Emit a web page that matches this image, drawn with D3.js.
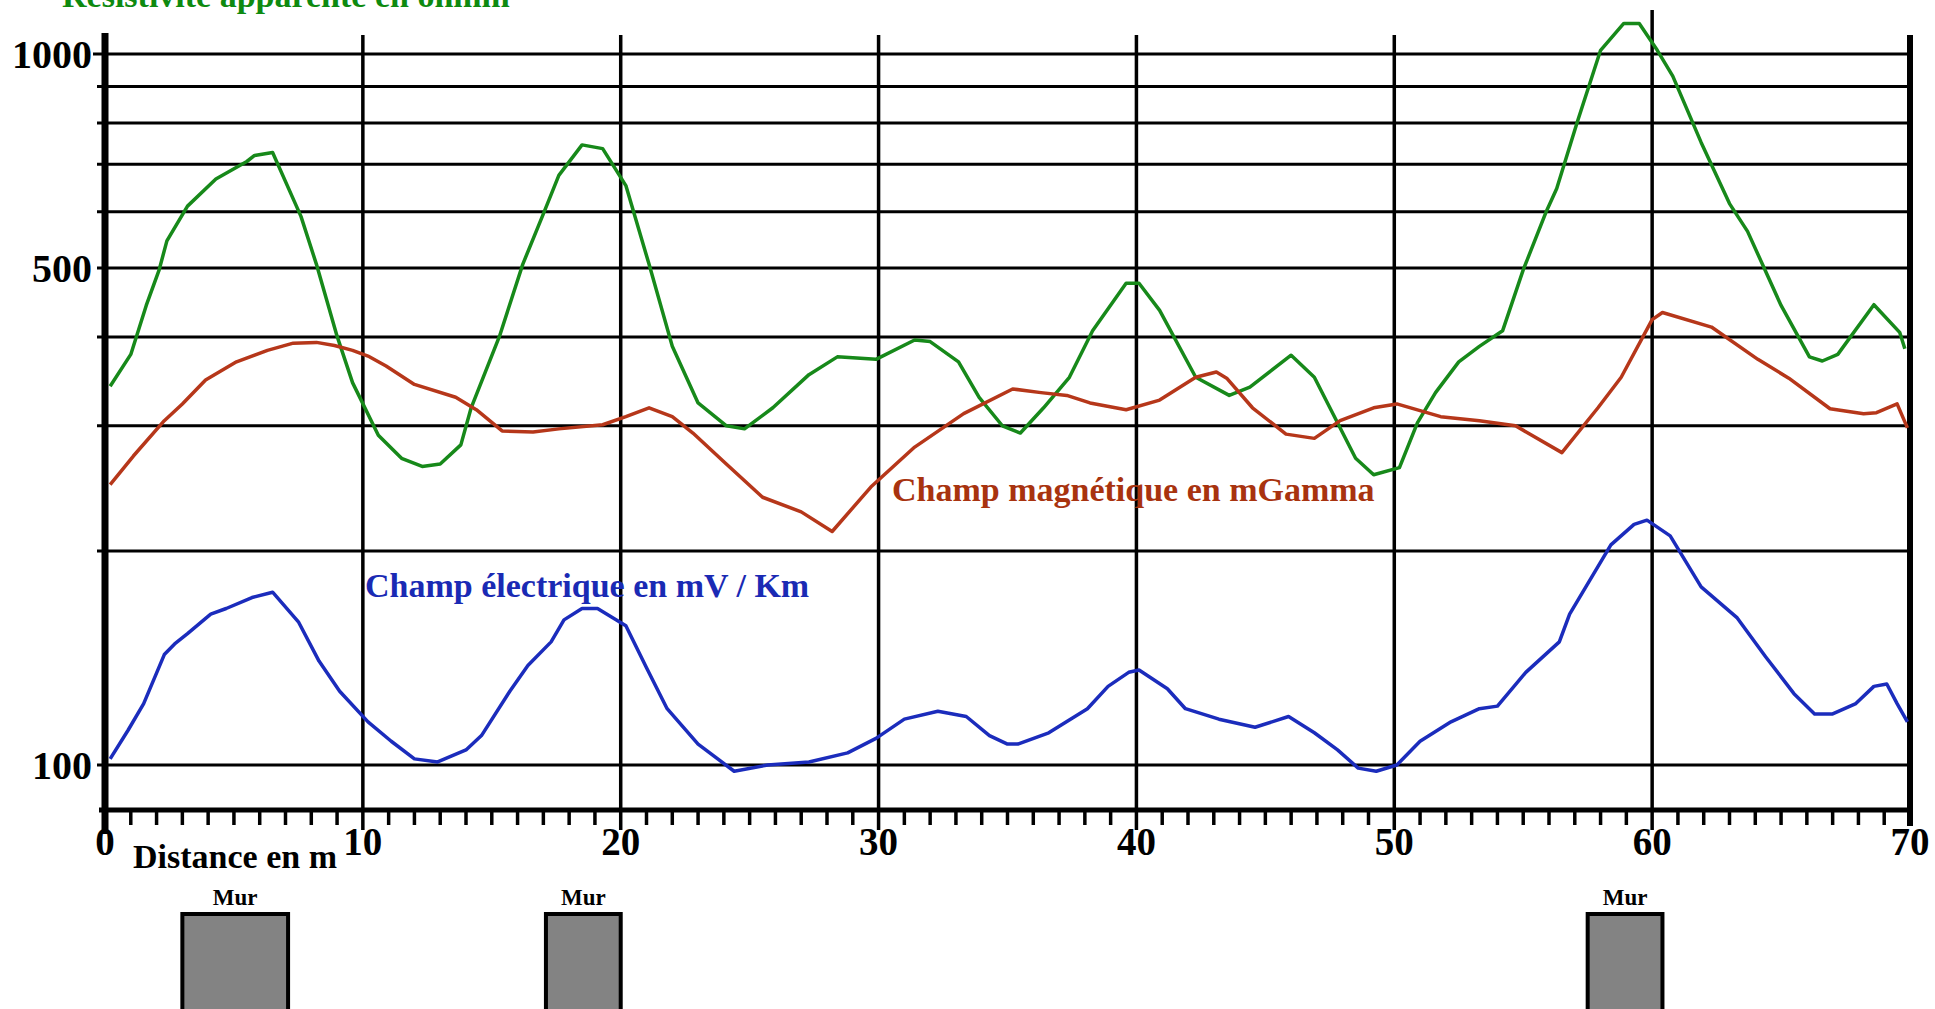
<!DOCTYPE html>
<html>
<head>
<meta charset="utf-8">
<script src="https://cdn.jsdelivr.net/npm/d3@7"></script>
<style>
  html, body { margin: 0; padding: 0; background: #fff; overflow: hidden; }
  text { font-family: "Liberation Serif", "Times New Roman", serif; font-weight: bold; }
</style>
</head>
<body>
<div id="chart"></div>
<script>
// distances (m) and values, one array pair per curve
var resistDist = [0.2,1.0,1.6,2.1,2.4,3.2,4.3,5.5,5.8,6.5,7.6,8.2,9.0,9.6,10.6,11.5,12.3,13.0,13.8,14.2,15.3,16.2,17.0,17.6,18.5,19.3,20.2,21.1,22.0,23.0,24.1,24.8,25.9,27.3,28.4,29.9,31.4,32.0,33.1,33.9,34.8,35.5,36.4,37.4,38.3,39.6,40.1,40.9,42.3,43.6,44.4,46.0,46.9,48.5,49.2,50.2,50.9,51.6,52.5,53.3,54.2,55.0,55.9,56.3,57.1,58.0,58.9,59.5,60.2,60.8,61.9,63.0,63.7,65.0,66.1,66.6,67.2,68.6,69.6,69.8];
var resistValues = [341,378,443,497,546,611,667,706,720,727,591,506,401,345,291,270,263,265,282,318,401,506,596,675,745,736,653,506,388,323,300,297,318,354,375,372,396,394,369,329,300,293,318,351,408,476,476,436,351,331,340,377,351,270,256,262,303,334,369,388,408,497,601,647,803,1012,1104,1104,1012,931,751,616,563,443,375,370,378,444,406,385];

var magDist = [0.2,1.1,2.3,3.0,3.9,5.1,6.3,7.3,8.2,8.9,9.6,10.2,10.9,12.0,13.6,14.4,15.4,16.6,17.6,19.3,20.2,21.1,22.0,22.8,24.0,25.5,27.0,28.2,29.7,31.4,33.3,35.2,36.3,37.3,38.2,39.6,40.9,42.3,43.1,43.5,44.5,45.8,46.9,47.9,49.2,50.1,51.8,53.3,54.7,56.5,57.9,58.8,60.0,60.4,62.3,64.1,65.3,66.9,68.2,68.7,69.5,69.9];
var magValues = [248,272,305,322,348,369,383,392,393,389,383,376,364,343,329,316,295,294,297,301,309,318,309,293,267,238,227,213,246,280,312,338,334,331,323,316,326,351,357,350,318,292,288,305,318,322,309,305,300,275,318,351,423,433,413,372,350,317,312,313,322,298];

var elecDist = [0.2,0.9,1.5,2.3,2.7,3.2,4.1,4.7,5.7,6.5,7.5,8.3,9.1,10.2,11.1,12.0,12.9,14.0,14.6,15.7,16.4,17.3,17.8,18.5,19.1,20.2,21.0,21.8,23.0,24.4,25.7,27.3,28.8,29.9,31.0,32.3,33.4,34.3,35.0,35.4,36.6,38.1,38.9,39.7,40.1,41.2,41.9,43.2,44.6,45.9,46.9,47.8,48.6,49.3,50.1,51.0,52.2,53.3,54.0,55.1,56.4,56.8,58.4,59.3,59.8,60.7,61.9,63.3,64.4,65.5,66.3,67.0,67.9,68.6,69.1,69.5,69.9];
var elecValues = [102,112,122,143,148,153,163,166,172,175,159,140,127,115,108,102,101,105,110,127,138,149,160,166,166,157,137,120,107,98,100,101,104,109,116,119,117,110,107,107,111,120,129,135,136,128,120,116,113,117,111,105,99,98,100,108,115,120,121,135,149,163,204,218,221,210,178,161,142,126,118,118,122,129,130,122,115];

var gridValues = [100,200,300,400,500,600,700,800,900,1000];
var yTickLabels = [100,500,1000];
var xMajorTicks = [0,10,20,30,40,50,60,70];

// walls drawn under the profile (start / end in m)
var wallStart = [3.0, 17.1, 57.5];
var wallEnd = [7.1, 20.0, 60.4];

var width = 1935, height = 1009;
var colors = {"resist": "#17891a", "mag": "#b6371a", "elec": "#1b2cbc", "resistText": "#0e8a10", "magText": "#a8330f", "elecText": "#1a2ab4"};

var svg = d3.select("#chart").append("svg")
    .attr("width", width).attr("height", height);

var x = d3.scaleLinear().domain([0, 70]).range([105, 1910]);
var y = d3.scaleLog().domain([100, 1000]).range([765, 54]);

var axisY = 810;

// horizontal grid (one line per hundred)
svg.append("g").selectAll("line")
    .data(gridValues)
    .enter().append("line")
    .attr("x1", function(d){ return d === 1000 ? 93 : 97; })
    .attr("x2", x(70))
    .attr("y1", function(d){ return y(d); })
    .attr("y2", function(d){ return y(d); })
    .attr("stroke", "#000").attr("stroke-width", 3);

// vertical grid every 10 m
svg.append("g").selectAll("line")
    .data(xMajorTicks.filter(function(d){ return d > 0 && d < 70; }))
    .enter().append("line")
    .attr("x1", function(d){ return x(d); })
    .attr("x2", function(d){ return x(d); })
    .attr("y1", function(d){ return d === 60 ? 10 : 35; })
    .attr("y2", axisY + 20)
    .attr("stroke", "#000").attr("stroke-width", 3.5);

// minor ticks every metre
svg.append("g").selectAll("line")
    .data(d3.range(1, 70).filter(function(d){ return d % 10 !== 0; }))
    .enter().append("line")
    .attr("x1", function(d){ return x(d); })
    .attr("x2", function(d){ return x(d); })
    .attr("y1", axisY)
    .attr("y2", axisY + 15)
    .attr("stroke", "#000").attr("stroke-width", 3.5);

// frame: left axis, right axis, bottom axis
svg.append("line").attr("x1", x(0)).attr("x2", x(0)).attr("y1", 33).attr("y2", axisY + 24)
    .attr("stroke", "#000").attr("stroke-width", 7);
svg.append("line").attr("x1", x(70)).attr("x2", x(70)).attr("y1", 35).attr("y2", axisY + 16)
    .attr("stroke", "#000").attr("stroke-width", 6);
svg.append("line").attr("x1", x(0) - 6).attr("x2", x(70) + 3).attr("y1", axisY).attr("y2", axisY)
    .attr("stroke", "#000").attr("stroke-width", 5);

// y labels
svg.append("g").selectAll("text")
    .data(yTickLabels)
    .enter().append("text")
    .attr("x", 92)
    .attr("y", function(d){ return y(d); })
    .attr("dy", "0.35em")
    .attr("text-anchor", "end")
    .attr("font-size", 40)
    .attr("fill", "#000")
    .text(function(d){ return d; });

// x labels
svg.append("g").selectAll("text")
    .data(xMajorTicks)
    .enter().append("text")
    .attr("x", function(d){ return x(d); })
    .attr("y", axisY + 45)
    .attr("text-anchor", "middle")
    .attr("font-size", 39)
    .attr("fill", "#000")
    .text(function(d){ return d; });

svg.append("text")
    .attr("x", 133).attr("y", 868)
    .attr("font-size", 34).attr("fill", "#000")
    .text("Distance en m");

// curves
var line = d3.line()
    .x(function(d){ return x(d[0]); })
    .y(function(d){ return y(d[1]); });

function drawCurve(dist, values, color){
    svg.append("path")
        .datum(d3.zip(dist, values))
        .attr("d", line)
        .attr("fill", "none")
        .attr("stroke", color)
        .attr("stroke-width", 3.5)
        .attr("stroke-linejoin", "round");
}
drawCurve(resistDist, resistValues, colors.resist);
drawCurve(magDist, magValues, colors.mag);
drawCurve(elecDist, elecValues, colors.elec);

// curve captions (the top one is cut by the sheet edge, as on the original)
svg.append("text").attr("x", 62).attr("y", 7)
    .attr("font-size", 34).attr("fill", colors.resistText)
    .text("Résistivité apparente en ohmm");
svg.append("text").attr("x", 892).attr("y", 501)
    .attr("font-size", 34).attr("fill", colors.magText)
    .text("Champ magnétique en mGamma");
svg.append("text").attr("x", 365).attr("y", 597)
    .attr("font-size", 34).attr("fill", colors.elecText)
    .text("Champ électrique en mV / Km");

// walls
var walls = svg.append("g").selectAll("g")
    .data(d3.zip(wallStart, wallEnd))
    .enter().append("g");
walls.append("rect")
    .attr("x", function(d){ return x(d[0]); })
    .attr("width", function(d){ return x(d[1]) - x(d[0]); })
    .attr("y", 914)
    .attr("height", 120)
    .attr("fill", "#838383")
    .attr("stroke", "#000")
    .attr("stroke-width", 4);
walls.append("text")
    .attr("x", function(d){ return (x(d[0]) + x(d[1])) / 2; })
    .attr("y", 905)
    .attr("text-anchor", "middle")
    .attr("font-size", 23)
    .attr("fill", "#000")
    .text("Mur");
</script>
</body>
</html>
